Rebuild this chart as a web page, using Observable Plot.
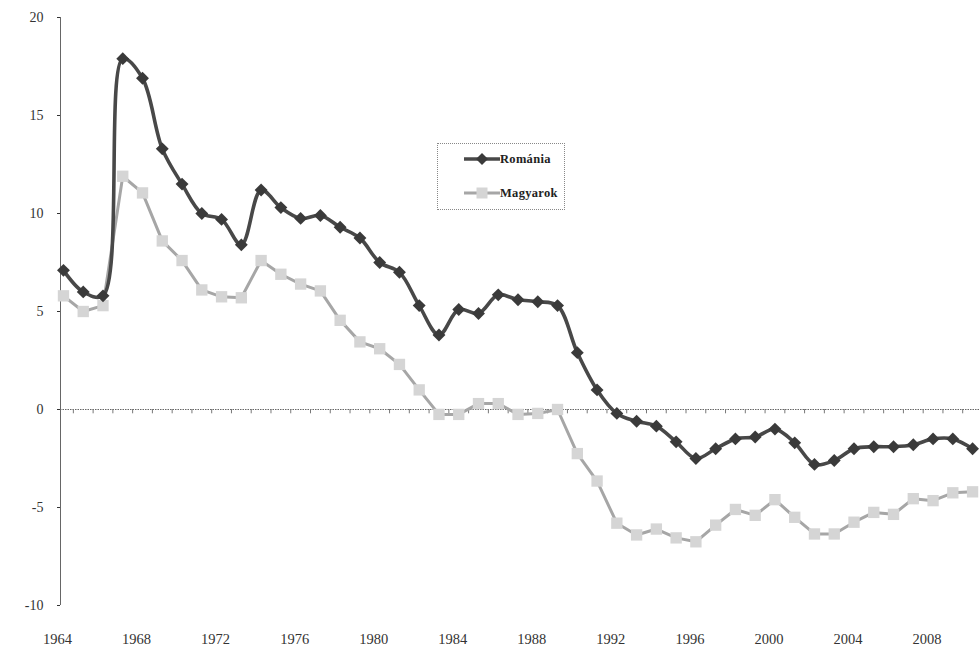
<!DOCTYPE html>
<html><head><meta charset="utf-8">
<script src="https://cdn.jsdelivr.net/npm/d3@7"></script>
<script src="https://cdn.jsdelivr.net/npm/@observablehq/plot@0.6"></script>
<style>
body{margin:0;background:#fff;font-family:"Liberation Serif",serif;}
#wrap{position:relative;width:979px;height:659px;overflow:hidden;}
.legend{position:absolute;left:437px;top:143px;width:128px;height:67px;border:1px dotted #888;box-sizing:border-box;background:#fff;}
.legend .item{position:absolute;left:24px;height:16px;display:flex;align-items:center;font-weight:bold;font-size:12.5px;color:#222;letter-spacing:0.3px;}
.legend svg{display:block;}
</style></head><body><div id="wrap"></div>
<script>
const years=[1964,1965,1966,1967,1968,1969,1970,1971,1972,1973,1974,1975,1976,1977,1978,1979,1980,1981,1982,1983,1984,1985,1986,1987,1988,1989,1990,1991,1992,1993,1994,1995,1996,1997,1998,1999,2000,2001,2002,2003,2004,2005,2006,2007,2008,2009,2010];
const romania=[7.1,6.0,5.8,17.9,16.9,13.3,11.5,10.0,9.7,8.4,11.2,10.3,9.75,9.9,9.3,8.75,7.5,7.0,5.3,3.8,5.1,4.9,5.85,5.6,5.5,5.3,2.9,1.0,-0.2,-0.6,-0.85,-1.65,-2.5,-2.0,-1.5,-1.4,-1.0,-1.7,-2.8,-2.6,-2.0,-1.9,-1.9,-1.8,-1.5,-1.5,-2.0];
const magyarok=[5.8,5.0,5.3,11.9,11.05,8.6,7.6,6.1,5.75,5.7,7.6,6.9,6.4,6.05,4.55,3.45,3.1,2.3,1.0,-0.25,-0.25,0.3,0.3,-0.25,-0.2,0.0,-2.25,-3.65,-5.8,-6.4,-6.1,-6.55,-6.75,-5.9,-5.1,-5.4,-4.6,-5.5,-6.35,-6.35,-5.75,-5.25,-5.35,-4.55,-4.65,-4.25,-4.2];
const yTicks=[-10,-5,0,5,10,15,20];
const yearTicks=[1964,1968,1972,1976,1980,1984,1988,1992,1996,2000,2004,2008];
const seriesNames=["Románia","Magyarok"];

const roRows=years.map((y,i)=>({year:y,value:romania[i],series:seriesNames[0]}));
const huRows=years.map((y,i)=>({year:y,value:magyarok[i],series:seriesNames[1]}));
const minorTicks=years.slice(0,-1).map(y=>y+0.5);

const styles={
  "Románia":{line:"#484848",lw:3.6,marker:"#3a3a3a",symbol:"diamond2",r:5.8},
  "Magyarok":{line:"#a6a6a6",lw:3,marker:"#d5d5d5",symbol:"square",r:6.4}
};

const chart=Plot.plot({
  width:979,height:659,
  marginLeft:60,marginRight:0,marginTop:17,marginBottom:54,
  x:{domain:[1963.85,2010.35]},
  y:{domain:[-10,20]},
  style:{fontFamily:"'Liberation Serif',serif",fontSize:"14px",color:"#333",background:"#fff"},
  marks:[
    Plot.frame({anchor:"left",stroke:"#666",strokeDasharray:"1,1"}),
    Plot.ruleY([0],{stroke:"#666",strokeDasharray:"1.5,1"}),
    Plot.ruleX(minorTicks,{x:d=>d,y1:0,y2:-0.22,stroke:"#777"}),
    Plot.axisY({ticks:yTicks,tickSize:3,tickPadding:14,tickFormat:d=>String(d),label:null,fontSize:14,fill:"#333"}),
    Plot.axisX({ticks:yearTicks,tickSize:0,tickPadding:28,tickFormat:d=>String(d),label:null,dx:-6,fontSize:14.5,fill:"#333"}),
    Plot.line(huRows,{x:"year",y:"value",stroke:styles["Magyarok"].line,strokeWidth:styles["Magyarok"].lw}),
    Plot.dot(huRows,{x:"year",y:"value",symbol:styles["Magyarok"].symbol,r:styles["Magyarok"].r,fill:styles["Magyarok"].marker,stroke:"none"}),
    Plot.line(roRows,{x:"year",y:"value",curve:"catmull-rom",stroke:styles["Románia"].line,strokeWidth:styles["Románia"].lw}),
    Plot.dot(roRows,{x:"year",y:"value",symbol:styles["Románia"].symbol,r:styles["Románia"].r,fill:styles["Románia"].marker,stroke:"none"})
  ]
});
const wrap=document.getElementById("wrap");
wrap.appendChild(chart);

// legend
const leg=document.createElement("div");
leg.className="legend";
seriesNames.forEach((name,i)=>{
  const s=styles[name];
  const it=document.createElement("div");
  it.className="item";
  it.style.top=(i===0?7:41)+"px";
  const sym=name==="Románia"
    ?`<path d="M20 2 L26 8 L20 14 L14 8 Z" fill="${s.marker}"/>`
    :`<rect x="14.5" y="2.5" width="11" height="11" fill="${s.marker}"/>`;
  it.innerHTML=`<svg width="38" height="16"><line x1="2" y1="8" x2="38" y2="8" stroke="${s.line}" stroke-width="${s.lw}"/>${sym}</svg><span>${name}</span>`;
  leg.appendChild(it);
});
wrap.appendChild(leg);
</script>
</body></html>
